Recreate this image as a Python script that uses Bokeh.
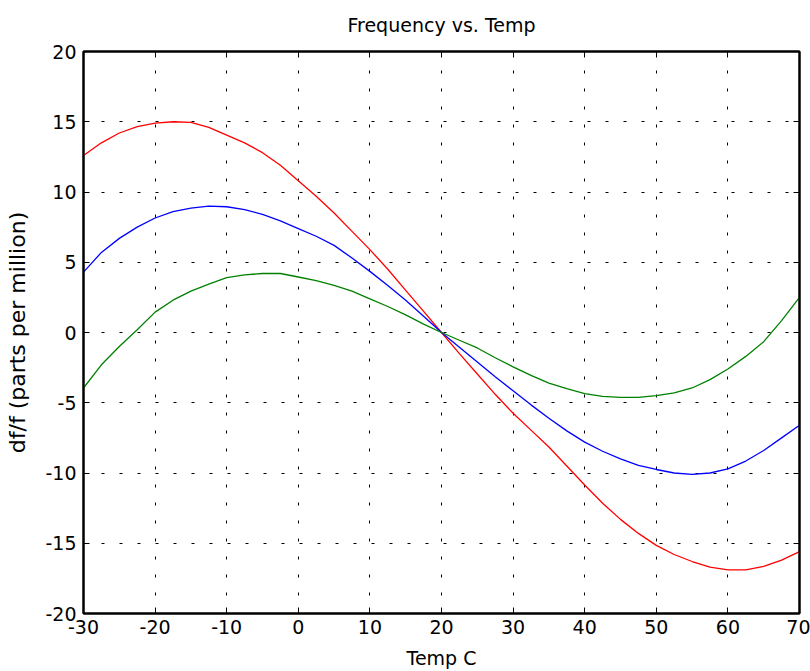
from bokeh.plotting import figure
from bokeh.models import FixedTicker, LinearAxis, Range1d, CustomLabelingPolicy
from bokeh.embed import file_html
from bokeh.resources import INLINE

# Temperature (C)
temps = [-30, -27.5, -25, -22.5, -20, -17.5, -15, -12.5, -10, -7.5, -5, -2.5,
         0, 2.5, 5, 7.5, 10, 12.5, 15, 17.5, 20, 22.5, 25, 27.5, 30, 32.5,
         35, 37.5, 40, 42.5, 45, 47.5, 50, 52.5, 55, 57.5, 60, 62.5, 65, 67.5, 70]

# df/f (ppm) for three curves
red_ppm = [12.6, 13.5, 14.2, 14.65, 14.9, 15.0, 14.95, 14.6, 14.05, 13.5, 12.8, 11.9,
           10.8, 9.7, 8.5, 7.2, 5.9, 4.5, 3.0, 1.5, 0.0, -1.5, -2.95, -4.4, -5.75, -6.95,
           -8.15, -9.5, -10.85, -12.15, -13.3, -14.3, -15.15, -15.8, -16.3, -16.7, -16.9,
           -16.9, -16.65, -16.2, -15.6]
blue_ppm = [4.3, 5.7, 6.7, 7.5, 8.15, 8.6, 8.85, 9.0, 8.95, 8.75, 8.4, 7.95,
            7.4, 6.85, 6.2, 5.3, 4.35, 3.35, 2.3, 1.15, 0.0, -1.05, -2.1, -3.15, -4.15, -5.15,
            -6.1, -7.0, -7.8, -8.45, -9.0, -9.45, -9.75, -10.0, -10.1, -10.0, -9.7,
            -9.15, -8.4, -7.5, -6.6]
green_ppm = [-3.95, -2.3, -1.0, 0.2, 1.45, 2.3, 2.95, 3.45, 3.9, 4.1, 4.2, 4.2,
             3.95, 3.7, 3.35, 2.95, 2.4, 1.85, 1.25, 0.6, 0.0, -0.55, -1.1, -1.8, -2.45, -3.05,
             -3.6, -4.0, -4.35, -4.55, -4.62, -4.62, -4.5, -4.3, -3.95, -3.35, -2.6,
             -1.7, -0.65, 0.85, 2.5]

x_ticks = [-30, -20, -10, 0, 10, 20, 30, 40, 50, 60, 70]
x_tick_labels = ["-30", "-20", "-10", "0", "10", "20", "30", "40", "50", "60", "70"]
y_ticks = [-20, -15, -10, -5, 0, 5, 10, 15, 20]
y_tick_labels = ["-20", "-15", "-10", "-5", "0", "5", "10", "15", "20"]

FONT = "DejaVu Sans"

p = figure(width=810, height=671, x_range=Range1d(-30, 70), y_range=Range1d(-20, 20),
           output_backend="svg", toolbar_location=None, title="Frequency vs. Temp",
           min_border_left=83, min_border_right=11, min_border_top=49, min_border_bottom=58)

p.background_fill_color = "white"
p.border_fill_color = "white"
p.outline_line_color = "black"
p.outline_line_width = 2

p.title.align = "center"
p.title.text_font = FONT
p.title.text_font_size = "19px"
p.title.text_line_height = 1.0
p.title.text_font_style = "normal"
p.title.text_color = "black"
p.title.standoff = 23

for ax, ticks, labels in ((p.xaxis[0], x_ticks, x_tick_labels), (p.yaxis[0], y_ticks, y_tick_labels)):
    ax.ticker = FixedTicker(ticks=ticks)
    ax.major_label_overrides = {t: l for t, l in zip(ticks, labels)}
    ax.major_tick_in = 6
    ax.major_tick_out = 0
    ax.minor_tick_in = 0
    ax.minor_tick_out = 0
    ax.axis_line_width = 2
    ax.axis_line_color = "black"
    ax.major_tick_line_color = "black"
    ax.major_label_text_font = FONT
    ax.major_label_text_font_size = "19px"
    ax.major_label_text_color = "black"
    ax.axis_label_text_font = FONT
    ax.axis_label_text_font_size = "19px"
    ax.axis_label_text_font_style = "normal"
    ax.axis_label_text_color = "black"

p.xaxis.axis_label = "Temp C"
p.yaxis.axis_label = "df/f (parts per million)"
p.yaxis.axis_label_text_font_size = "22px"
p.xaxis.axis_label_text_line_height = 1.0
p.xaxis.major_label_standoff = 6
p.yaxis.major_label_standoff = 7
p.xaxis.axis_label_standoff = 10
p.yaxis.axis_label_standoff = 12

# inner ticks on the top and right edges of the box (no labels)
for loc, ticks in (("above", x_ticks), ("right", y_ticks)):
    ax = LinearAxis(ticker=FixedTicker(ticks=ticks),
                    major_label_policy=CustomLabelingPolicy(code="return []"),
                    major_label_text_font_size="1px",
                    major_tick_in=6, major_tick_out=0, minor_tick_in=0, minor_tick_out=0,
                    axis_line_width=2, axis_line_color="black", major_label_standoff=0)
    p.add_layout(ax, loc)

for g in (p.xgrid[0], p.ygrid[0]):
    g.grid_line_color = "black"
    g.grid_line_dash = "3 15"
    g.grid_line_width = 1
p.xgrid.ticker = FixedTicker(ticks=x_ticks)
p.ygrid.ticker = FixedTicker(ticks=y_ticks)

p.line(temps, red_ppm, line_color="#ff0000", line_width=1.3)
p.line(temps, blue_ppm, line_color="#0000ff", line_width=1.3)
p.line(temps, green_ppm, line_color="#008000", line_width=1.3)

open("out.html", "w").write(file_html(p, INLINE))
